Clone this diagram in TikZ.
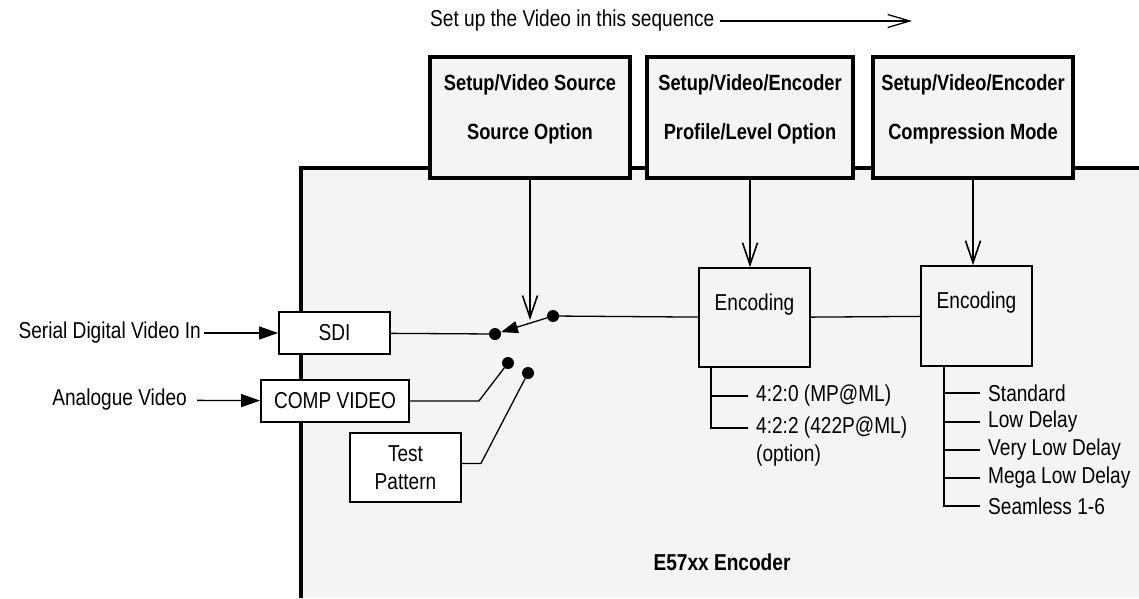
\documentclass[tikz,border=0pt]{standalone}
\usepackage{fontspec}
\setmainfont[FakeStretch=0.83]{Liberation Sans}
\usetikzlibrary{arrows.meta}
\definecolor{panel}{HTML}{F4F4F4}

\begin{document}
\begin{tikzpicture}[x=1pt, y=-1pt,
    every node/.style={font=\fontsize{23}{28}\selectfont},
    setbox/.style={draw, line width=3.3pt, fill=panel, align=center, inner sep=0pt,
      minimum width=200pt, minimum height=121pt, font=\bfseries\fontsize{22}{26}\selectfont},
    encbox/.style={draw, line width=1.6pt, fill=panel, inner sep=0pt,
      minimum width=111pt, text height=42pt, text depth=57pt},
    inbox/.style={draw, line width=1.8pt, fill=white, inner sep=0pt, align=center,
      minimum height=42pt},
    dot/.style={circle, fill, inner sep=0pt, minimum size=12pt},
    item/.style={anchor=west, inner xsep=8pt, inner ysep=0pt},
    inlbl/.style={anchor=east, inner xsep=10pt},
    wire/.style={line width=1.3pt},
    treeline/.style={line width=1.8pt},
    vee/.style={line width=1.6pt, -{Straight Barb[length=22pt,width=15pt]}},
    feed/.style={line width=1.3pt, -{Triangle[length=19pt,width=13pt]}},
  ]
  \useasboundingbox (0,0) rectangle (1139,598);

  % encoder housing
  \fill[panel] (301,168) rectangle (1139,598);
  \draw[line width=3.3pt] (1139,168) -- (301,168) -- (301,598);

  \node[anchor=west, inner xsep=0pt] (seq) at (430,21) {Set up the Video in this sequence};
  \coordinate (seqend) at (912,21);

  \node[setbox] (srcopt) at (530,117.5)
    {\rule{0pt}{33pt}Setup/Video Source\\[23pt]Source Option\rule[-39pt]{0pt}{39pt}};
  \node[setbox, minimum width=206pt] (profopt) at (750,117.5)
    {\rule{0pt}{33pt}Setup/Video/Encoder\\[23pt]Profile/Level Option\rule[-39pt]{0pt}{39pt}};
  \node[setbox] (compmode) at (973,117.5)
    {\rule{0pt}{33pt}Setup/Video/Encoder\\[23pt]Compression Mode\rule[-39pt]{0pt}{39pt}};

  \node[inlbl, inner xsep=3pt] (serial) at (204,333) {Serial Digital Video In};
  \node[inlbl] (anlg) at (197,400) {Analogue Video};

  \node[inbox, minimum width=111pt] (sdi) at (334.5,333) {SDI};
  \node[inbox, minimum width=148pt] (compvid) at (335,401) {COMP VIDEO};
  \node[inbox, minimum width=111pt, minimum height=69pt] (testpat) at (405.5,467.5) {Test\\Pattern};

  % source switch
  \node[dot] (csdi) at (495,334) {};
  \node[dot] (pivot) at (553,316) {};
  \node[dot] (ccomp) at (508,363) {};
  \node[dot] (ctest) at (528,373) {};
  \coordinate (aim) at (530,320);

  \node[encbox] (enc1) at (754.5,317.5) {Encoding};
  \node[encbox, text depth=58pt] (enc2) at (976.5,316) {Encoding};

  \node[item] (t420) at (748,396) {4:2:0 (MP@ML)};
  \node[item] (t422) at (748,428) {4:2:2 (422P@ML)};
  \node[item] (topt) at (748,456) {(option)};

  \node[item] (cm1) at (980,393) {Standard};
  \node[item] (cm2) at (980,422) {Low Delay};
  \node[item] (cm3) at (980,450) {Very Low Delay};
  \node[item] (cm4) at (980,478) {Mega Low Delay};
  \node[item] (cm5) at (980,506) {Seamless 1-6};

  \node[font=\bfseries\fontsize{23}{28}\selectfont] (encname) at (722,562) {E57xx Encoder};

  \draw[wire, -{Straight Barb[length=22pt,width=13pt]}] ([xshift=6pt]seq.east) -- (seqend);
  \draw[vee] (srcopt) -- (aim);
  \draw[vee] (profopt) -- (profopt |- enc1.north);
  \draw[vee] (compmode) -- (compmode |- enc2.north);

  \draw[feed] (serial) -- (sdi);
  \draw[feed] (anlg) -- (compvid);
  \draw[wire] (sdi) -- (csdi);
  \draw[wire, -{Triangle[length=17pt,width=12pt]}] (pivot) -- (csdi);
  \draw[wire] (compvid.east) -- ++(69,0) -- (ccomp);
  \draw[wire] ([yshift=4pt]testpat.east) -- ++(19,0) -- (ctest);
  \draw[wire] (pivot) -- (enc1);
  \draw[wire] (enc1) -- (enc2);

  \coordinate (r1) at ([xshift=13pt]enc1.south west);
  \coordinate (r2) at ([xshift=24pt]enc2.south west);
  \foreach \t in {t420, t422} \draw[treeline] (r1) |- (\t);
  \foreach \m in {cm1, cm2, cm3, cm4, cm5} \draw[treeline] (r2) |- (\m);
\end{tikzpicture}
\end{document}
